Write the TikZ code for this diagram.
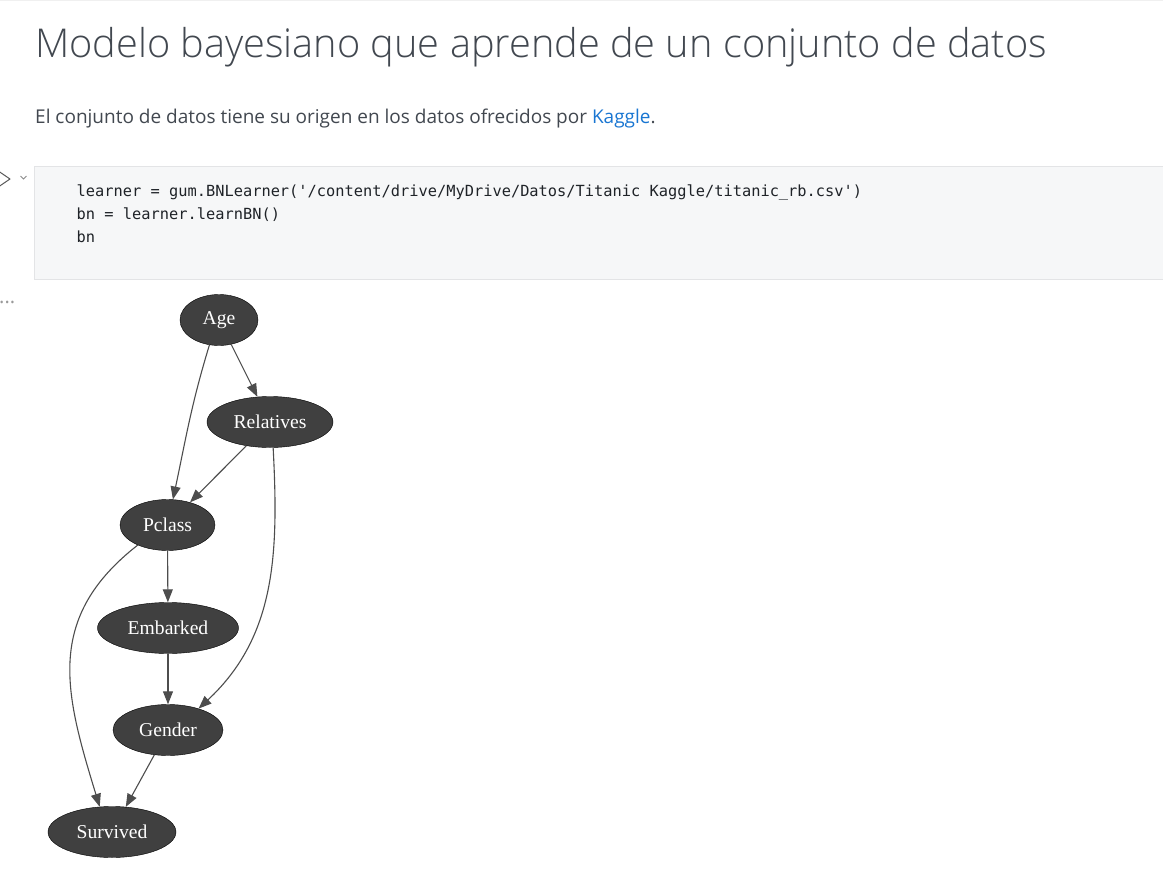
\documentclass[tikz,border=0pt]{standalone}
\usepackage{fontspec}
\setmainfont{Liberation Serif}
\setmonofont{DejaVu Sans Mono}
\newfontfamily\uifont{Open Sans}
\newfontfamily\titlefont{Open Sans Light}
\usetikzlibrary{shapes.geometric,arrows.meta}

\definecolor{bnfill}{HTML}{404040}
\definecolor{bnedge}{HTML}{4D4D4D}
\definecolor{headcol}{HTML}{424850}
\definecolor{linkcol}{HTML}{1976D2}
\definecolor{cellbg}{HTML}{F6F7F8}
\definecolor{cellline}{HTML}{E3E4E6}
\definecolor{codecol}{HTML}{1F2328}

\tikzset{
  bnvar/.style={ellipse,draw=black,fill=bnfill,text=white,inner sep=0pt,
    minimum height=51pt,font=\fontsize{19.6}{21}\selectfont},
  bnarc/.style={draw=bnedge,line width=1.1pt,-{Triangle[length=13pt,width=10pt]}},
  codeline/.style={anchor=base west,inner sep=0pt,text=codecol,
    font=\ttfamily\fontsize{15.35}{18}\selectfont},
}

\begin{document}
\begin{tikzpicture}[x=1pt,y=1pt]
      \useasboundingbox (0,0) rectangle (1163,-875);
      \fill[white] (0,0) rectangle (1163,-875);
      \draw[gray!12] (0,-0.5) -- (1163,-0.5);

      \node[anchor=base west,inner sep=0pt,text=headcol,font=\titlefont\fontsize{39.7}{42}\selectfont] (title) at (35,-57.5) {Modelo bayesiano que aprende de un conjunto de datos};
      \node[anchor=base west,inner sep=0pt,text=headcol,font=\uifont\fontsize{19}{22}\selectfont] (intro) at (35,-123) {El conjunto de datos tiene su origen en los datos ofrecidos por \textcolor{linkcol}{Kaggle}.};

      % code cell
      \draw[black!65,line width=1pt,line join=round] (-1,-171.5) -- (10,-179) -- (-1,-186.5);
      \draw[black!45,line width=0.8pt] (20.5,-176) -- (23.5,-179) -- (26.5,-176);
      \fill[cellbg] (34,-166) rectangle (1163,-279);
      \draw[cellline] (1163,-166) -- (34.5,-166) -- (34.5,-279) -- (1163,-279);
      \node[codeline] (line1) at (76.5,-196.5) {learner = gum.BNLearner('/content/drive/MyDrive/Datos/Titanic Kaggle/titanic\_rb.csv')};
      \node[codeline] (line2) at (76.5,-219.5) {bn = learner.learnBN()};
      \node[codeline] (line3) at (76.5,-242.5) {bn};
      \node[anchor=base west,inner sep=0pt,text=gray!80,font=\uifont\fontsize{20}{22}\selectfont] (more) at (-1,-303) {...};

      % bayesian network
      \node[bnvar,minimum width=78pt] (age) at (219,-320) {Age};
      \node[bnvar,minimum width=126pt] (rel) at (270,-422) {Relatives};
      \node[bnvar,minimum width=95pt] (pcl) at (167.5,-525) {Pclass};
      \node[bnvar,minimum width=141pt] (emb) at (168,-628) {Embarked};
      \node[bnvar,minimum width=110pt] (gen) at (168,-730) {Gender};
      \node[bnvar,minimum width=128pt] (sur) at (112,-832) {Survived};

      \draw[bnarc] (age) -- (rel);
      \draw[bnarc] (age.249) to[out=-107,in=78] (pcl.78);
      \draw[bnarc] (rel) -- (pcl);
      \draw[bnarc] (rel.277) to[out=-87,in=43] (gen.35);
      \draw[bnarc] (pcl) -- (emb);
      \draw[bnarc] (pcl.214) to[out=218,in=107,looseness=1.15] (sur.116);
      \draw[bnarc] (emb) -- (gen);
      \draw[bnarc] (gen) -- (sur);
    \end{tikzpicture}
\end{document}
